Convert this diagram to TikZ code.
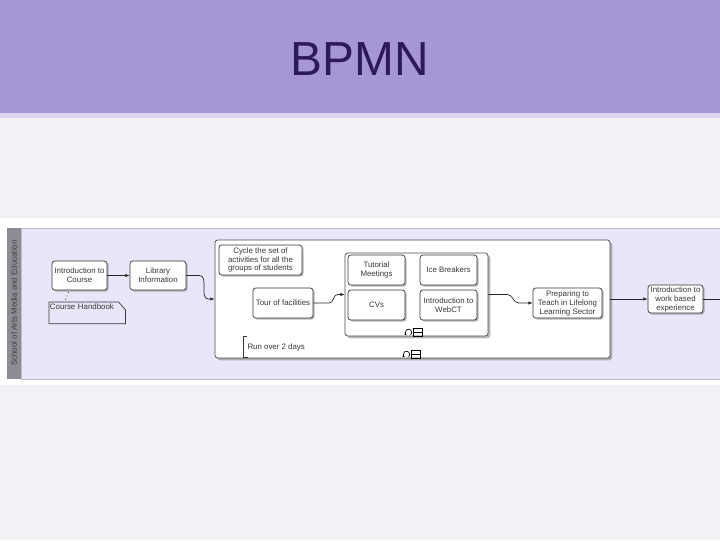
\documentclass[tikz,border=0pt]{standalone}
\usepackage{fontspec}
\setmainfont{Liberation Sans}
\usetikzlibrary{arrows.meta,shadows,calc}

\definecolor{bandpurple}{HTML}{A696D6}
\definecolor{bandedge}{HTML}{DDD7EF}
\definecolor{slidebg}{HTML}{F3F1F6}
\definecolor{titleink}{HTML}{2C1A5A}
\definecolor{lanefill}{HTML}{E7E7F9}
\definecolor{lanehead}{HTML}{8D8C95}
\definecolor{boxink}{HTML}{383838}

\begin{document}
\begin{tikzpicture}[x=0.025cm, y=-0.025cm,
				task/.style={draw=boxink, fill=white, rounded corners=2pt, line width=0.5pt, align=center, inner sep=0.5pt,
					font=\fontsize{5.6}{6.4}\selectfont, text=boxink,
					drop shadow={shadow xshift=1.1pt, shadow yshift=-1.1pt, fill=black!55, opacity=0.5}},
				subproc/.style={draw=black!70, fill=white, rounded corners=2pt, line width=0.5pt,
					drop shadow={shadow xshift=1.6pt, shadow yshift=-1.6pt, fill=black!55, opacity=0.5}},
				flow/.style={draw=black!85, line width=0.5pt, -{Latex[length=3pt,width=2.4pt]}},
				note/.style={font=\fontsize{5.6}{6.4}\selectfont, text=boxink},
				loopmark/.pic={
					\draw[line width=0.5pt, -{Latex[length=1.4pt,width=1.6pt]}] (-8,-4) ++(-50:2.3pt) arc[start angle=-50, end angle=235, radius=2.3pt];
					\draw[line width=0.5pt] (-3,-8) rectangle (6,0);
					\draw[line width=0.5pt] (-3,-4) -- (6,-4);
				}
				]
				
				% slide
				\useasboundingbox (0,0) rectangle (720,540);
				\fill[slidebg] (0,0) rectangle (720,540);
				\fill[bandpurple] (0,0) rectangle (720,113);
				\fill[bandedge] (0,113) rectangle (720,118);
				\node[font=\fontsize{34}{34}\selectfont, text=titleink] (title) at (360,59) {BPMN};
				
				% pool and lane
				\fill[white] (0,218) rectangle (720,385);
				\draw[fill=lanefill, draw=black!25, line width=0.4pt] (21,228) rectangle (720,379);
				\fill[lanehead] (7,228) rectangle (21,379);
				\node[rotate=90, note, text=black!75] (lane) at (14,303) {School of Arts Media and Education};
				
				\node[task, minimum width=1.375cm, minimum height=0.725cm] (intro) at (79.5,275.5) {Introduction to\\Course};
				\node[task, minimum width=1.4cm, minimum height=0.725cm] (lib) at (158,275.5) {Library\\Information};
				
				\node[note, anchor=north west, align=left, text width=1.9cm-1pt, inner sep=0.5pt, text height=4.5pt, text depth=9.5pt,
					path picture={\fill[lanefill] ($(path picture bounding box.north east)+(-7,0)$) -- (path picture bounding box.north east) -- ++(0,8) -- cycle;}]
					(hb) at (49,302) {Course Handbook};
				\draw[line width=0.5pt, draw=boxink] (hb.north west) -- ($(hb.north east)+(-7,0)$) -- ($(hb.north east)+(0,8)$) -- (hb.south east) -- (hb.south west) -- cycle;
				\draw[dotted, line width=0.5pt] ($(intro.south)+(-11,2)$) -- ($(hb.north)+(-22,-2)$);
				
				% expanded sub-process
				\node[subproc, minimum width=9.875cm, minimum height=2.95cm] (outer) at (412.5,299) {};
				\node[task, minimum width=2.075cm, minimum height=0.75cm, font=\fontsize{5.6}{6.2}\selectfont] (cycle) at (260.5,260) {Cycle the set of\\activities for all the\\groups of students};
				\node[task, minimum width=1.5cm, minimum height=0.75cm] (tour) at (283,303) {Tour of facilities};
				\node[subproc, minimum width=3.575cm, minimum height=2.075cm] (inner) at (416.5,294.5) {};
				\node[task, minimum width=1.425cm, minimum height=0.75cm] (tutorial) at (376.5,270) {Tutorial\\Meetings};
				\node[task, minimum width=1.425cm, minimum height=0.75cm] (cvs) at (376.5,305) {CVs};
				\node[task, minimum width=1.425cm, minimum height=0.75cm] (ice) at (448.5,270) {Ice Breakers};
				\node[task, minimum width=1.425cm, minimum height=0.75cm] (webct) at (448.5,305) {Introduction to\\WebCT};
				\node[task, minimum width=1.725cm, minimum height=0.75cm] (prep) at (567.5,303) {Preparing to\\Teach in Lifelong\\Learning Sector};
				\node[note, anchor=west, minimum height=0.5cm, inner xsep=3pt] (runnote) at (243,347) {Run over 2 days};
				\draw[line width=0.5pt, draw=boxink] ([xshift=3pt]runnote.north west) -| (runnote.south west) -- ++(5,0);
				\pic at (inner.south) {loopmark};
				\pic at ($(outer.south)+(2,0)$) {loopmark};
				
				\node[task, minimum width=1.375cm, minimum height=0.7cm] (work) at (675.5,299) {Introduction to\\work based\\experience};
				\coordinate (offedge) at (720,299);
				
				% sequence flows
				\draw[flow] (intro) -- (lib);
				\draw[flow] (lib.east) -- ++(13,0) to[out=0,in=180] ($(outer.west)+(-6,0)$) -- (outer.west);
				\draw[flow] (tour.east) -- ++(16,0) to[out=0,in=180] ($(inner.west)+(-7,0)$) -- (inner.west);
				\draw[flow] (inner.east) -- ++(19,0) to[out=0,in=180] ($(prep.west)+(-14,0)$) -- (prep.west);
				\draw[flow] (outer) -- (work);
				\draw[draw=black!85, line width=0.5pt] (work) -- (offedge);
				
			\end{tikzpicture}
\end{document}
